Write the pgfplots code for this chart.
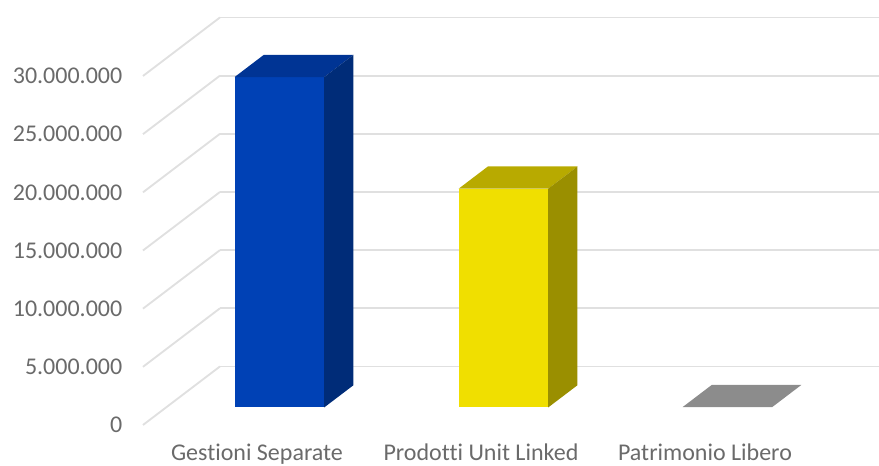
\documentclass[border=0pt]{standalone}
\usepackage{fontspec}
\setmainfont{Carlito}[Ligatures={NoCommon}]
\usepackage{pgfplots}
\pgfplotsset{compat=1.18}
\definecolor{gridc}{HTML}{E0E0E0}
\definecolor{txt}{HTML}{6A6A6A}
\definecolor{bluef}{HTML}{0041B5}
\definecolor{bluet}{HTML}{003494}
\definecolor{blues}{HTML}{002C78}
\definecolor{yellf}{HTML}{F0DF00}
\definecolor{yellt}{HTML}{B8AA00}
\definecolor{yells}{HTML}{9A8F00}
\definecolor{greyt}{HTML}{8C8C8C}
% one picture pixel = 0.75pt, values in millions
\begin{document}
\begin{tikzpicture}[x=0.75pt,y=0.75pt]
\useasboundingbox (-257,-41) rectangle (622,425);
\begin{axis}[
    at={(0,0)}, anchor=origin,
    x={(168pt,0pt)},
    y={(57.75pt,43.9pt)},
    z={(0pt,8.725pt)},
    xmin=-0.509, xmax=2.777,
    ymin=0, ymax=1,
    zmin=0, zmax=30,
    clip=false,
    axis line style={draw=none},
    tick style={draw=none},
    xmajorgrids=false, ymajorgrids=false, zmajorgrids=true,
    ytick=\empty,
    xtick={0,1,2},
    xticklabels={Gestioni Separate,Prodotti Unit Linked,Patrimonio Libero},
    ztick={0,5,10,15,20,25,30},
    zticklabels={0,5.000.000,10.000.000,15.000.000,20.000.000,25.000.000,30.000.000},
    major grid style={gridc,line width=1.4pt},
    tick label style={font=\fontsize{18}{20}\selectfont,text=txt},
    xticklabel style={anchor=north,yshift=-10.5pt},
    zticklabel style={anchor=east,xshift=-12pt},
]
% front, top and side of each bar: x, depth, value
\addplot3[fill=bluef,draw=none] coordinates {(-0.203,0.30,0) (0.197,0.30,0) (0.197,0.30,28.4) (-0.203,0.30,28.4)};
\addplot3[fill=bluet,draw=none] coordinates {(-0.203,0.30,28.4) (0.197,0.30,28.4) (0.197,0.68,28.4) (-0.203,0.68,28.4)};
\addplot3[fill=blues,draw=none] coordinates {(0.197,0.30,0) (0.197,0.68,0) (0.197,0.68,28.4) (0.197,0.30,28.4)};
\addplot3[fill=yellf,draw=none] coordinates {(0.797,0.30,0) (1.197,0.30,0) (1.197,0.30,18.8) (0.797,0.30,18.8)};
\addplot3[fill=yellt,draw=none] coordinates {(0.797,0.30,18.8) (1.197,0.30,18.8) (1.197,0.68,18.8) (0.797,0.68,18.8)};
\addplot3[fill=yells,draw=none] coordinates {(1.197,0.30,0) (1.197,0.68,0) (1.197,0.68,18.8) (1.197,0.30,18.8)};
\addplot3[fill=greyt,draw=none] coordinates {(1.797,0.30,0.03) (2.197,0.30,0.03) (2.197,0.68,0.03) (1.797,0.68,0.03)};
\end{axis}
\end{tikzpicture}
\end{document}
